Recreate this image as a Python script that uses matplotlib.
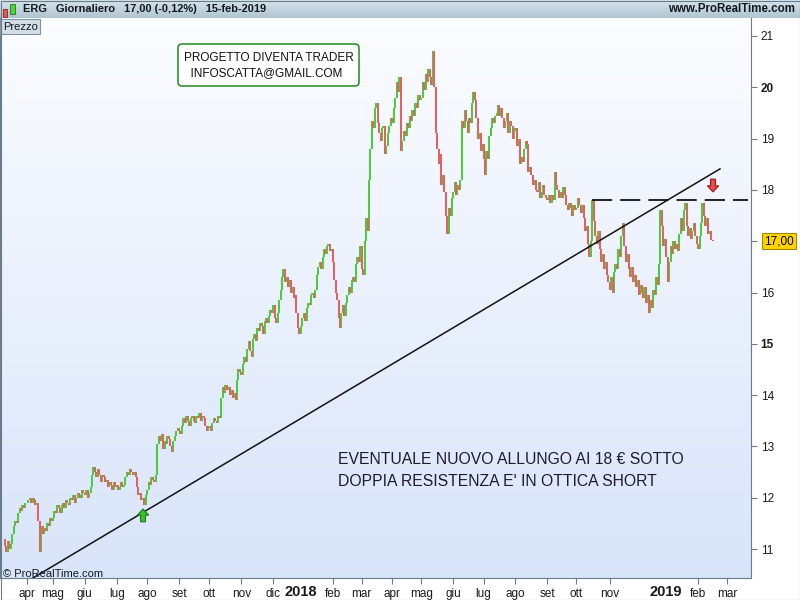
import numpy as np
import pandas as pd
import matplotlib
matplotlib.use("Agg")
import matplotlib.pyplot as plt
from matplotlib.patches import FancyArrow, FancyBboxPatch, Rectangle
from matplotlib.transforms import IdentityTransform, blended_transform_factory

plt.rcParams['font.family'] = ['Liberation Sans', 'DejaVu Sans']
plt.rcParams['lines.scale_dashes'] = False

# daily closes of ERG, one list per month
mar17 = [11.05, 10.95, 11.15, 11.0, 11.1, 11.3, 11.45, 11.55, 11.5, 11.7, 11.8, 11.75, 11.85, 11.8, 11.9]
apr17 = [11.9, 11.95, 12.0, 11.9, 12.0, 11.95, 11.85, 11.9, 11.55, 10.95, 11.45, 11.3, 11.4, 11.35, 11.5, 11.45, 11.6, 11.55]
may17 = [11.6, 11.75, 11.7, 11.85, 11.8, 11.7, 11.85, 11.9, 11.8, 11.95, 11.9, 11.85, 12.0, 11.95, 12.05, 11.9, 12.0, 12.1, 12.05, 12.0, 12.15, 12.1]
jun17 = [12.05, 12.15, 12.0, 12.1, 12.2, 12.45, 12.6, 12.5, 12.4, 12.55, 12.45, 12.3, 12.45, 12.4, 12.3, 12.35, 12.2, 12.3, 12.25, 12.15, 12.3, 12.2]
jul17 = [12.25, 12.15, 12.2, 12.3, 12.2, 12.25, 12.4, 12.5, 12.45, 12.55, 12.5, 12.45, 12.5, 12.4, 12.2, 12.05, 12.1, 11.95, 12.0, 11.85, 12.05]
aug17 = [12.15, 12.3, 12.25, 12.4, 12.35, 12.3, 12.45, 13.05, 13.2, 13.1, 13.25, 12.95, 13.1, 13.05, 13.2, 13.15, 13.0, 12.9, 13.1, 13.2, 13.3, 13.35]
sep17 = [13.3, 13.25, 13.4, 13.55, 13.45, 13.6, 13.5, 13.4, 13.55, 13.6, 13.5, 13.45, 13.6, 13.55, 13.65, 13.5, 13.6, 13.55, 13.4, 13.3, 13.35]
oct17 = [13.4, 13.3, 13.45, 13.55, 13.5, 13.45, 13.6, 13.55, 13.95, 14.15, 14.05, 14.2, 14.1, 14.15, 14.0, 14.1, 13.95, 14.05, 13.9, 14.3, 14.5, 14.45]
nov17 = [14.4, 14.6, 14.75, 14.65, 14.9, 15.05, 14.85, 14.75, 15.1, 15.2, 15.05, 15.3, 15.25, 15.4, 15.35, 15.2, 15.45, 15.5, 15.4, 15.55, 15.65, 15.6]
dec17 = [15.75, 15.5, 15.4, 15.6, 15.85, 16.05, 16.3, 16.45, 16.2, 16.3, 16.1, 16.25, 16.0, 16.1, 15.9, 15.95, 15.6, 15.3, 15.2]
jan18 = [15.35, 15.5, 15.6, 15.45, 15.7, 15.8, 15.75, 15.95, 16.0, 15.9, 16.05, 16.35, 16.5, 16.6, 16.45, 16.7, 16.85, 16.75, 16.9, 16.95, 16.8, 16.85]
feb18 = [16.6, 16.25, 16.0, 15.85, 15.5, 15.3, 15.6, 15.75, 15.55, 15.8, 15.95, 16.1, 16.0, 16.25, 16.3, 16.2, 16.55, 16.7, 16.6, 16.9]
mar18 = [16.45, 16.35, 17.0, 17.45, 17.2, 18.2, 18.8, 19.35, 19.2, 19.6, 19.7, 19.3, 19.1, 18.95, 19.2, 19.25, 18.7, 18.85, 19.1, 19.25, 19.4]
apr18 = [19.3, 19.6, 19.8, 20.1, 19.9, 20.2, 18.75, 18.95, 19.15, 19.05, 19.3, 19.2, 19.45, 19.35, 19.55, 19.45, 19.7, 19.6, 19.85, 19.75]
may18 = [19.8, 20.1, 19.95, 20.25, 20.1, 20.35, 20.2, 20.05, 20.7, 20.0, 19.1, 18.8, 18.5, 18.7, 18.1, 18.3, 17.95, 17.5, 17.15, 17.65, 17.5, 17.85]
jun18 = [17.95, 18.15, 17.9, 18.1, 18.0, 18.2, 19.35, 19.2, 19.55, 19.35, 19.1, 19.4, 19.3, 19.7, 19.9, 19.75, 19.4, 19.0, 19.1, 18.75, 18.9]
jul18 = [18.6, 18.3, 18.75, 18.6, 19.05, 19.2, 19.4, 19.3, 19.45, 19.5, 19.65, 19.45, 19.6, 19.4, 19.2, 19.35, 19.5, 19.1, 19.35, 19.25, 19.0, 19.15]
aug18 = [19.2, 18.85, 19.0, 18.5, 18.65, 18.55, 18.8, 18.95, 18.9, 18.35, 18.45, 18.3, 18.1, 18.2, 18.0, 17.95, 18.15, 17.85, 17.95, 18.1, 17.9, 17.85]
sep18 = [17.8, 17.9, 17.75, 17.9, 17.8, 18.35, 18.1, 18.0, 17.85, 17.95, 17.85, 18.05, 17.9, 17.7, 17.6, 17.75, 17.65, 17.5, 17.7, 17.6]
oct18 = [17.65, 17.85, 17.7, 17.55, 17.7, 17.45, 17.2, 17.3, 16.95, 16.7, 17.0, 17.8, 17.4, 17.1, 16.95, 17.2, 16.85, 16.6, 16.75, 16.45, 16.6, 16.35, 16.2]
nov18 = [16.05, 16.3, 16.0, 16.4, 16.55, 16.45, 16.85, 16.7, 17.1, 17.35, 16.9, 16.6, 16.75, 16.45, 16.3, 16.5, 16.2, 16.35, 16.1, 16.25, 15.95, 16.15]
dec18 = [16.0, 15.9, 16.1, 15.8, 15.95, 15.6, 15.85, 15.7, 16.05, 15.95, 16.3, 16.15, 16.55, 17.6, 17.3, 16.9, 17.05]
jan19 = [16.7, 16.2, 16.6, 16.9, 16.75, 17.0, 16.85, 16.95, 16.8, 17.15, 17.45, 17.2, 17.6, 17.75, 17.3, 17.1, 17.25, 17.05, 17.2, 17.35, 17.1, 16.95]
feb19 = [16.85, 17.1, 17.35, 17.75, 17.5, 17.3, 17.45, 17.15, 17.2, 17.02, 17.0]
first_open = 11.2

# Borsa Italiana closing days in the period
holidays = ["2017-04-14", "2017-04-17", "2017-05-01", "2017-08-15", "2017-12-25", "2017-12-26",
            "2018-01-01", "2018-03-30", "2018-04-02", "2018-05-01", "2018-08-15", "2018-12-24",
            "2018-12-25", "2018-12-26", "2018-12-31", "2019-01-01"]

month_names = ["gen", "feb", "mar", "apr", "mag", "giu", "lug", "ago", "set", "ott", "nov", "dic"]
price_ticks = [11, 12, 13, 14, 15, 16, 17, 18, 19, 20, 21]
last_price = 17.00

# annotations drawn on the chart (trading-day index, price)
trend_x = [17.2, 493.1]
trend_y = [10.40, 18.41]
resist_x = [404.8, 512.4]
resist_y = 17.80
up_arrow = (95.2, 11.53)
down_arrow = (488.3, 18.21)

closes = np.array(mar17 + apr17 + may17 + jun17 + jul17 + aug17 + sep17 + oct17 + nov17 + dec17
                  + jan18 + feb18 + mar18 + apr18 + may18 + jun18 + jul18 + aug18 + sep18 + oct18
                  + nov18 + dec18 + jan19 + feb19)
opens = np.r_[first_open, closes[:-1]]
days = pd.bdate_range("2017-03-13", "2019-03-29")
days = days[~days.isin(pd.to_datetime(holidays))]
idx = np.arange(len(closes))

fig = plt.figure(figsize=(8, 6), dpi=100, facecolor="white")
px = IdentityTransform()

# main price panel
ax = fig.add_axes([0, 22 / 600, 751 / 800, 560 / 600])
x0, x1 = -5 / 1.45, 746 / 1.45
y0, y1 = 21 - 542 / 51.3, 21 + 18 / 51.3
grad = np.linspace([0.985, 0.99, 1.0], [0.85, 0.895, 0.98], 256).reshape(256, 1, 3)
ax.imshow(grad, extent=[x0, x1, y0, y1], aspect="auto", zorder=0, interpolation="bilinear")

up = closes >= opens
ax.vlines(idx[up], opens[up], closes[up], color="#4ccc3c", lw=1.45, zorder=2)
ax.vlines(idx[~up], opens[~up], closes[~up], color="#e06262", lw=1.45, zorder=2)

ax.plot(trend_x, trend_y, color="#111111", lw=1.1, zorder=3)
ax.plot(resist_x, [resist_y, resist_y], color="#111111", lw=1.3, dashes=(14.5, 5.8), zorder=3)

ax.add_patch(FancyArrow(up_arrow[0], up_arrow[1], 0, 0.25, width=3.4, head_width=7.8, head_length=0.12,
                        length_includes_head=True, fc="#3cc031", ec="#1b7a14", lw=0.8, zorder=4))
ax.add_patch(FancyArrow(down_arrow[0], down_arrow[1], 0, -0.25, width=3.4, head_width=7.8, head_length=0.12,
                        length_includes_head=True, fc="#e8474d", ec="#a01818", lw=0.8, zorder=4))

ax.set_xlim(x0, x1)
ax.set_ylim(y0, y1)

# month ticks at first trading day, years written in bold without tick
starts = days.to_series().groupby([days.year, days.month]).first()
tick_pos, tick_lab, year_pos = [], [], []
for d in starts:
    pos = days.get_loc(d)
    if d.day > 7:
        continue  # series starts mid-month
    if d.month == 1:
        year_pos.append((pos, str(d.year)))
    elif not (d.year == 2018 and d.month == 12):
        tick_pos.append(pos)
        tick_lab.append(month_names[d.month - 1])
ax.set_xticks(tick_pos)
ax.set_xticklabels(tick_lab)
ax.tick_params(axis="x", direction="out", length=4, pad=3, labelsize=8.5, color="#6a7c8c", labelcolor="#1a1a1a")
xtr = blended_transform_factory(ax.transData, ax.transAxes)
for pos, lab in year_pos:
    ax.text(pos, -14 / 560, lab, transform=xtr, ha="center", va="center", fontsize=10.5,
            fontweight="bold", color="#1a1a1a")

ax.yaxis.tick_right()
ax.set_yticks(price_ticks)
ax.set_yticklabels(["" if v == 17 else str(v) for v in price_ticks])
ax.tick_params(axis="y", direction="out", length=4, pad=3, labelsize=8.5, color="#6a7c8c", labelcolor="#1a1a1a")
for t, v in zip(ax.get_yticklabels(), price_ticks):
    if v in (15, 20):
        t.set_fontweight("bold")
ytr = blended_transform_factory(ax.transAxes, ax.transData)
ax.text(1 + 13 / 751, last_price, "17,00", transform=ytr, ha="left", va="center", fontsize=8.5,
        color="black", bbox=dict(boxstyle="square,pad=0.18", fc="#ffd400", ec="#a08a00", lw=0.8))

for side in ["left", "right", "bottom"]:
    ax.spines[side].set_color("#6a7c8c")
ax.spines["top"].set_visible(False)

# header strip
hdr = fig.add_axes([0, 582 / 600, 1, 18 / 600])
hgrad = np.linspace([0.84, 0.89, 0.92], [0.69, 0.77, 0.82], 32).reshape(32, 1, 3)
hdr.imshow(hgrad, extent=[0, 1, 0, 1], aspect="auto")
hdr.set_xlim(0, 1)
hdr.set_ylim(0, 1)
hdr.axis("off")
fig.patches.append(Rectangle((3, 600 - 17), 4, 8, transform=px, fc="#e05858", ec="#902020", lw=0.6))
fig.patches.append(Rectangle((10, 600 - 14), 5, 10, transform=px, fc="#50d040", ec="#207a18", lw=0.6))
fig.text(23 / 800, 1 - 9.5 / 600, "ERG   Giornaliero   17,00 (-0,12%)   15-feb-2019", fontsize=7.9,
         fontweight="bold", va="center", color="#101820")
fig.text(795 / 800, 1 - 9.5 / 600, "www.ProRealTime.com", fontsize=8.3, fontweight="bold",
         va="center", ha="right", color="#101820")

# "Prezzo" tab
fig.patches.append(Rectangle((0, 600 - 34), 40, 15, transform=px, fc="#d3dde5", ec="#8294a4", lw=0.8, zorder=5))
fig.text(3 / 800, 1 - 26.5 / 600, "Prezzo", fontsize=8, va="center", color="#101820", zorder=6)

# text boxes
fig.patches.append(FancyBboxPatch((178, 600 - 86), 181, 42, boxstyle="round,pad=0,rounding_size=4",
                                  transform=px, fc="white", ec="#1f8a1f", lw=1.1, zorder=5))
fig.text(184 / 800, 1 - 58 / 600, "PROGETTO DIVENTA TRADER", fontsize=8.5, va="center", color="#111111", zorder=6)
fig.text(184 / 800, 1 - 73.5 / 600, "  INFOSCATTA@GMAIL.COM", fontsize=8.5, va="center", color="#111111", zorder=6)

fig.text(338 / 800, 1 - 460 / 600, "EVENTUALE NUOVO ALLUNGO AI 18 € SOTTO", fontsize=11.3,
         va="center", color="#1c1c2c", zorder=6)
fig.text(338 / 800, 1 - 481 / 600, "DOPPIA RESISTENZA E' IN OTTICA SHORT", fontsize=11.3,
         va="center", color="#1c1c2c", zorder=6)

fig.text(3 / 800, 1 - 574 / 600, "© ProRealTime.com", fontsize=8, va="center", color="#101820", zorder=6)

# outer frame
fig.patches.append(Rectangle((0.5, 0.5), 799, 599, transform=px, fill=False, ec="#6a7c8c", lw=0.8, zorder=7))

fig.savefig("out.png", dpi=100)
